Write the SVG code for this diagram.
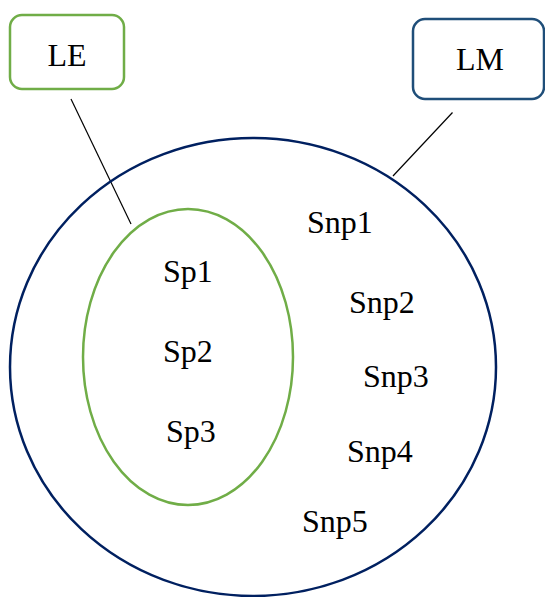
<svg xmlns="http://www.w3.org/2000/svg" width="545" height="597" viewBox="0 0 545 597">
<style>
.t{font-family:"Liberation Serif","Times New Roman",serif;font-size:32px;fill:#000}
.c{text-anchor:middle}
.con{stroke:#000;stroke-width:1.2;fill:none}
</style>
<rect width="545" height="597" fill="#fff"/>
<g id="connectors">
<line class="con" x1="71" y1="99" x2="131" y2="224"/>
<line class="con" x1="452.5" y1="112.5" x2="393" y2="176"/>
</g>
<g id="LM-set">
<ellipse cx="253" cy="367" rx="243" ry="229" fill="none" stroke="#002060" stroke-width="2.5"/>
</g>
<g id="LE-set">
<ellipse cx="188" cy="357" rx="105" ry="148" fill="none" stroke="#70AD47" stroke-width="2.5"/>
</g>
<g id="LE">
<rect x="10" y="15" width="114" height="74" rx="12" fill="#fff" stroke="#70AD47" stroke-width="2.5"/>
<text class="t c" x="67" y="66">LE</text>
</g>
<g id="LM">
<rect x="413" y="19" width="131" height="80" rx="12" fill="#fff" stroke="#1F4E79" stroke-width="2.5"/>
<text class="t c" x="480" y="70">LM</text>
</g>
<g id="Sp1"><text class="t" x="163" y="282">Sp1</text></g>
<g id="Sp2"><text class="t" x="163" y="362">Sp2</text></g>
<g id="Sp3"><text class="t" x="166" y="442">Sp3</text></g>
<g id="Snp1"><text class="t" x="307" y="233">Snp1</text></g>
<g id="Snp2"><text class="t" x="349" y="313">Snp2</text></g>
<g id="Snp3"><text class="t" x="363" y="387">Snp3</text></g>
<g id="Snp4"><text class="t" x="347" y="462">Snp4</text></g>
<g id="Snp5"><text class="t" x="302" y="532">Snp5</text></g>
</svg>
